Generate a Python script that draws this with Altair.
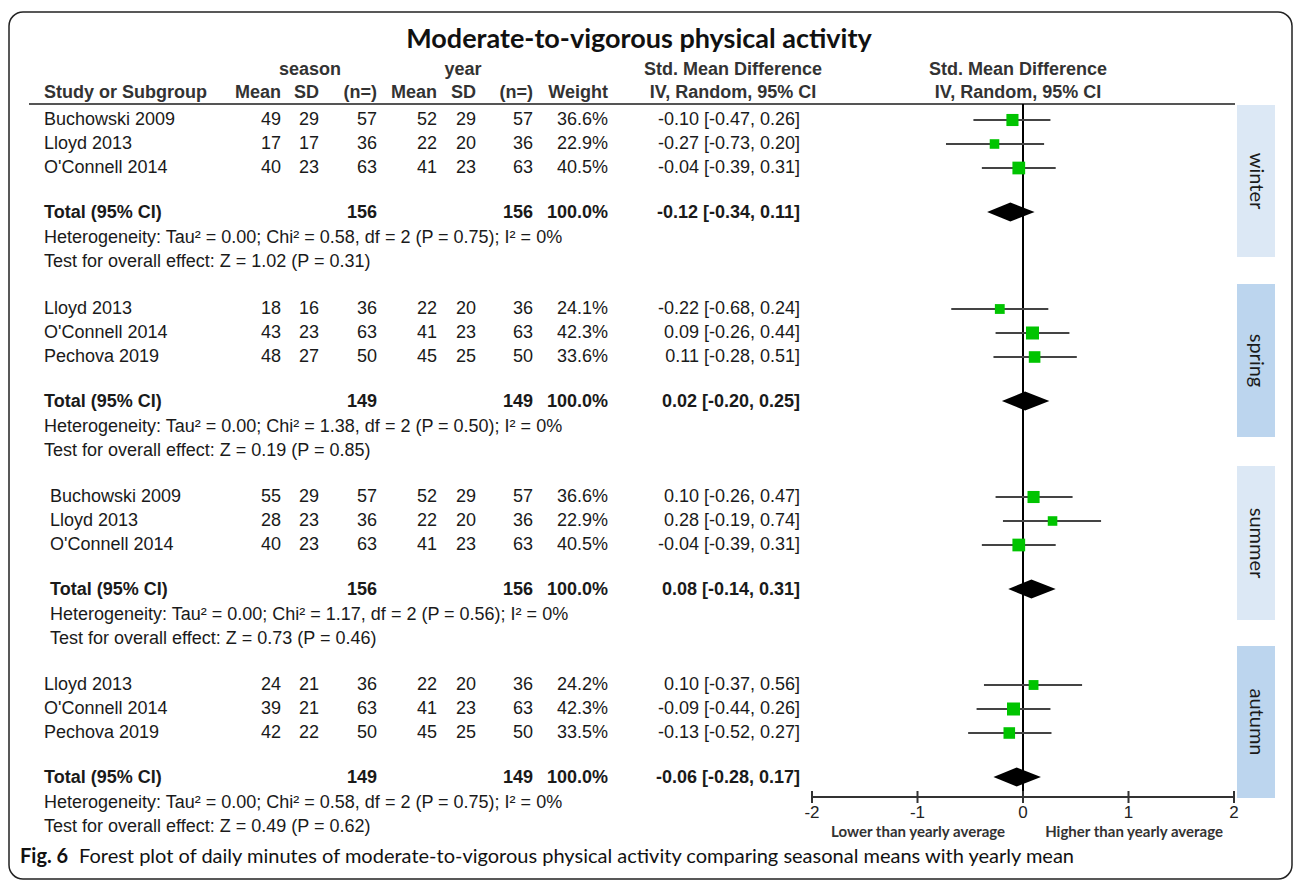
import altair as alt
import pandas as pd

# ---------------- data ----------------
seasons = ["winter", "spring", "summer", "autumn"]
studies = [
    ["Buchowski 2009", "Lloyd 2013", "O'Connell 2014"],
    ["Lloyd 2013", "O'Connell 2014", "Pechova 2019"],
    ["Buchowski 2009", "Lloyd 2013", "O'Connell 2014"],
    ["Lloyd 2013", "O'Connell 2014", "Pechova 2019"],
]
season_mean = [[49, 17, 40], [18, 43, 48], [55, 28, 40], [24, 39, 42]]
season_sd = [[29, 17, 23], [16, 23, 27], [29, 23, 23], [21, 21, 22]]
season_n = [[57, 36, 63], [36, 63, 50], [57, 36, 63], [36, 63, 50]]
year_mean = [[52, 22, 41], [22, 41, 45], [52, 22, 41], [22, 41, 45]]
year_sd = [[29, 20, 23], [20, 23, 25], [29, 20, 23], [20, 23, 25]]
year_n = [[57, 36, 63], [36, 63, 50], [57, 36, 63], [36, 63, 50]]
weight = [[36.6, 22.9, 40.5], [24.1, 42.3, 33.6], [36.6, 22.9, 40.5], [24.2, 42.3, 33.5]]
smd = [[-0.10, -0.27, -0.04], [-0.22, 0.09, 0.11], [0.10, 0.28, -0.04], [0.10, -0.09, -0.13]]
ci_low = [[-0.47, -0.73, -0.39], [-0.68, -0.26, -0.28], [-0.26, -0.19, -0.39], [-0.37, -0.44, -0.52]]
ci_high = [[0.26, 0.20, 0.31], [0.24, 0.44, 0.51], [0.47, 0.74, 0.31], [0.56, 0.26, 0.27]]

total_n_season = [156, 149, 156, 149]
total_n_year = [156, 149, 156, 149]
total_smd = [-0.12, 0.02, 0.08, -0.06]
total_low = [-0.34, -0.20, -0.14, -0.28]
total_high = [0.11, 0.25, 0.31, 0.17]
tau2 = [0.00, 0.00, 0.00, 0.00]
chi2 = [0.58, 1.38, 1.17, 0.58]
het_df = [2, 2, 2, 2]
het_p = [0.75, 0.50, 0.56, 0.75]
i2 = [0, 0, 0, 0]
z_val = [1.02, 0.19, 0.73, 0.49]
z_p = [0.31, 0.85, 0.46, 0.62]

axis_ticks = [-2, -1, 0, 1, 2]

# ---------------- layout ----------------
W, H = 1296, 883
section_top = [120, 309, 497, 685]
row_off = [0, 24, 48]
TOTAL_OFF, HET_OFF, TEST_OFF = 93, 118, 142
band_top = [105, 284, 466, 646]
band_bot = [257, 437, 620, 798]
AXIS_Y = 797
HEADER_LINE_Y = 104
DIAMOND_HALF = 9.5

FONT = "Liberation Sans"
TFONT = "Lato"
FS = 18
TXT = "#1a1a1a"

YS = alt.Scale(domain=[0, H], range=[0, H], nice=False, zero=False)
XS = alt.Scale(domain=[-2, 2], range=[812, 1234], nice=False, zero=False)


def fmt_ci(e, lo, hi):
    return f"{e:.2f} [{lo:.2f}, {hi:.2f}]"


study_rows, total_rows, note_rows, diamond_rows, band_rows = [], [], [], [], []
for i, s in enumerate(seasons):
    top = section_top[i]
    for j in range(3):
        study_rows.append(dict(
            season=s, y=top + row_off[j], name=studies[i][j],
            sm=str(season_mean[i][j]), ssd=str(season_sd[i][j]), sn=str(season_n[i][j]),
            ym=str(year_mean[i][j]), ysd=str(year_sd[i][j]), yn=str(year_n[i][j]),
            wt=f"{weight[i][j]:.1f}%", w=weight[i][j],
            ci=fmt_ci(smd[i][j], ci_low[i][j], ci_high[i][j]),
            est=smd[i][j], lo=ci_low[i][j], hi=ci_high[i][j]))
    ty = top + TOTAL_OFF
    total_rows.append(dict(
        season=s, y=ty, name="Total (95% CI)", sn=str(total_n_season[i]),
        yn=str(total_n_year[i]), wt="100.0%",
        ci=fmt_ci(total_smd[i], total_low[i], total_high[i])))
    note_rows.append(dict(season=s, y=top + HET_OFF,
                          text=f"Heterogeneity: Tau² = {tau2[i]:.2f}; Chi² = {chi2[i]:.2f}, "
                               f"df = {het_df[i]} (P = {het_p[i]:.2f}); I² = {i2[i]}%"))
    note_rows.append(dict(season=s, y=top + TEST_OFF,
                          text=f"Test for overall effect: Z = {z_val[i]:.2f} (P = {z_p[i]:.2f})"))
    cy = ty - 1
    diamond_rows += [
        dict(season=s, dx=total_low[i], dy=cy, dy2=cy),
        dict(season=s, dx=total_smd[i], dy=cy - DIAMOND_HALF, dy2=cy + DIAMOND_HALF),
        dict(season=s, dx=total_high[i], dy=cy, dy2=cy),
    ]
    band_rows.append(dict(season=s, top=band_top[i], bot=band_bot[i],
                          mid=(band_top[i] + band_bot[i]) / 2))

studies_df = pd.DataFrame(study_rows)
totals_df = pd.DataFrame(total_rows)
notes_df = pd.DataFrame(note_rows)
diamond_df = pd.DataFrame(diamond_rows)
bands_df = pd.DataFrame(band_rows)
one = pd.DataFrame({"a": [0]})

Y = alt.Y("y:Q", scale=YS, axis=None)


def col_text(df, field, x, align="right", bold=False, filt=None):
    c = alt.Chart(df).mark_text(
        align=align, baseline="middle", font=FONT, fontSize=FS,
        fontWeight="bold" if bold else "normal", color=TXT)
    if filt is not None:
        c = c.transform_filter(filt)
    return c.encode(x=alt.value(x), y=Y, text=alt.Text(field + ":N"))


layers = []

# rounded outer border
layers.append(alt.Chart(one).mark_rect(
    fillOpacity=0, stroke="#222", strokeWidth=1.5, cornerRadius=14).encode(
    x=alt.value(9), x2=alt.value(1292), y=alt.value(12), y2=alt.value(879)))

# season bands
layers.append(alt.Chart(bands_df).mark_rect().encode(
    x=alt.value(1237), x2=alt.value(1275),
    y=alt.Y("top:Q", scale=YS, axis=None), y2="bot:Q",
    color=alt.Color("season:N", scale=alt.Scale(
        domain=seasons, range=["#dce8f5", "#bcd5ee", "#dce8f5", "#bcd5ee"]), legend=None)))
layers.append(alt.Chart(bands_df).mark_text(
    angle=90, font=TFONT, fontSize=20, color="#1a1a1a", baseline="middle", align="center").encode(
    x=alt.value(1256), y=alt.Y("mid:Q", scale=YS, axis=None), text="season:N"))

# title
layers.append(alt.Chart(one).mark_text(
    text="Moderate-to-vigorous physical activity", font=TFONT, fontSize=27,
    fontWeight="bold", color="#111", align="center", baseline="middle").encode(
    x=alt.value(639), y=alt.value(40)))

# headers
hdr1 = [("season", 310), ("year", 463), ("Std. Mean Difference", 733), ("Std. Mean Difference", 1018)]
for t, x in hdr1:
    layers.append(alt.Chart(one).mark_text(
        text=t, font=FONT, fontSize=FS, fontWeight="bold", color="#333",
        align="center", baseline="middle").encode(x=alt.value(x), y=alt.value(70)))
hdr2 = [("Study or Subgroup", 44, "left"), ("Mean", 281, "right"), ("SD", 319, "right"),
        ("(n=)", 377, "right"), ("Mean", 437, "right"), ("SD", 476, "right"),
        ("(n=)", 533, "right"), ("Weight", 608, "right"),
        ("IV, Random, 95% CI", 733, "center"), ("IV, Random, 95% CI", 1018, "center")]
for t, x, a in hdr2:
    layers.append(alt.Chart(one).mark_text(
        text=t, font=FONT, fontSize=FS, fontWeight="bold", color="#333",
        align=a, baseline="middle").encode(x=alt.value(x), y=alt.value(93)))

# header line
layers.append(alt.Chart(one).mark_rule(color="#555", strokeWidth=2).encode(
    x=alt.value(29), x2=alt.value(1235), y=alt.value(HEADER_LINE_Y)))

# study rows
not_summer = alt.datum.season != "summer"
is_summer = alt.datum.season == "summer"
layers.append(col_text(studies_df, "name", 44, "left", filt=not_summer))
layers.append(col_text(studies_df, "name", 50, "left", filt=is_summer))
for f, x in [("sm", 281), ("ssd", 319), ("sn", 377), ("ym", 437), ("ysd", 476),
             ("yn", 533), ("wt", 608), ("ci", 800)]:
    layers.append(col_text(studies_df, f, x))

# totals
layers.append(col_text(totals_df, "name", 44, "left", bold=True, filt=not_summer))
layers.append(col_text(totals_df, "name", 50, "left", bold=True, filt=is_summer))
for f, x in [("sn", 377), ("yn", 533), ("wt", 608), ("ci", 800)]:
    layers.append(col_text(totals_df, f, x, bold=True))

# heterogeneity / test lines
layers.append(col_text(notes_df, "text", 44, "left", filt=not_summer))
layers.append(col_text(notes_df, "text", 50, "left", filt=is_summer))

# zero line
layers.append(alt.Chart(pd.DataFrame({"z": [0], "t": [HEADER_LINE_Y], "b": [AXIS_Y]})).mark_rule(
    color="#000", strokeWidth=2).encode(
    x=alt.X("z:Q", scale=XS, axis=None),
    y=alt.Y("t:Q", scale=YS, axis=None), y2="b:Q"))

# CI lines
layers.append(alt.Chart(studies_df).mark_rule(color="#444", strokeWidth=1.8).encode(
    x=alt.X("lo:Q", scale=XS, axis=None), x2="hi:Q", y=Y))

# squares
layers.append(alt.Chart(studies_df).mark_square(filled=True, opacity=1, color="#00c400").encode(
    x=alt.X("est:Q", scale=XS, axis=None), y=Y,
    size=alt.Size("w:Q", scale=alt.Scale(domain=[0, 45], range=[0, 180]), legend=None)))

# diamonds: one area per subgroup (CI limits -> estimate -> CI limit)
for s in seasons:
    layers.append(alt.Chart(diamond_df[diamond_df.season == s]).mark_area(
        color="#000", opacity=1, orient="vertical", interpolate="linear").encode(
        x=alt.X("dx:Q", scale=XS, axis=None),
        y=alt.Y("dy:Q", scale=YS, axis=None, stack=None),
        y2=alt.Y2("dy2:Q")))

# bottom axis
ticks_df = pd.DataFrame({"t": axis_ticks, "lab": [str(v) for v in axis_ticks],
                         "y0": [AXIS_Y - 6] * 5, "y1": [AXIS_Y + 6] * 5, "ly": [AXIS_Y + 16] * 5})
axis_df = pd.DataFrame({"a": [min(axis_ticks)], "b": [max(axis_ticks)], "y": [AXIS_Y]})
layers.append(alt.Chart(axis_df).mark_rule(color="#333", strokeWidth=2).encode(
    x=alt.X("a:Q", scale=XS, axis=None), x2="b:Q", y=Y))
layers.append(alt.Chart(ticks_df).mark_rule(color="#333", strokeWidth=2).encode(
    x=alt.X("t:Q", scale=XS, axis=None),
    y=alt.Y("y0:Q", scale=YS, axis=None), y2="y1:Q"))
layers.append(alt.Chart(ticks_df).mark_text(
    font=FONT, fontSize=17, color="#222", baseline="middle", align="center").encode(
    x=alt.X("t:Q", scale=XS, axis=None),
    y=alt.Y("ly:Q", scale=YS, axis=None), text="lab:N"))

side_df = pd.DataFrame({"x": [-0.17, 0.21], "y": [AXIS_Y + 35, AXIS_Y + 35],
                        "lab": ["Lower than yearly average", "Higher than yearly average"]})
layers.append(alt.Chart(side_df.iloc[[0]]).mark_text(
    font=TFONT, fontSize=15, fontWeight="bold", color="#333", align="right",
    baseline="middle").encode(x=alt.X("x:Q", scale=XS, axis=None), y=Y, text="lab:N"))
layers.append(alt.Chart(side_df.iloc[[1]]).mark_text(
    font=TFONT, fontSize=15, fontWeight="bold", color="#333", align="left",
    baseline="middle").encode(x=alt.X("x:Q", scale=XS, axis=None), y=Y, text="lab:N"))

# caption
layers.append(alt.Chart(one).mark_text(
    text="Fig. 6", font=TFONT, fontSize=20, fontWeight="bold", color="#111",
    align="left", baseline="middle").encode(x=alt.value(20), y=alt.value(857)))
layers.append(alt.Chart(one).mark_text(
    text="Forest plot of daily minutes of moderate-to-vigorous physical activity "
         "comparing seasonal means with yearly mean",
    font=TFONT, fontSize=20, color="#111", align="left", baseline="middle").encode(
    x=alt.value(79), y=alt.value(857)))

chart = alt.layer(*layers).properties(
    width=W, height=H, autosize=alt.AutoSizeParams(type="none"), padding=0,
    background="white").configure_view(strokeWidth=0)

chart.save("out.html", embed_options={"renderer": "svg", "actions": False})
